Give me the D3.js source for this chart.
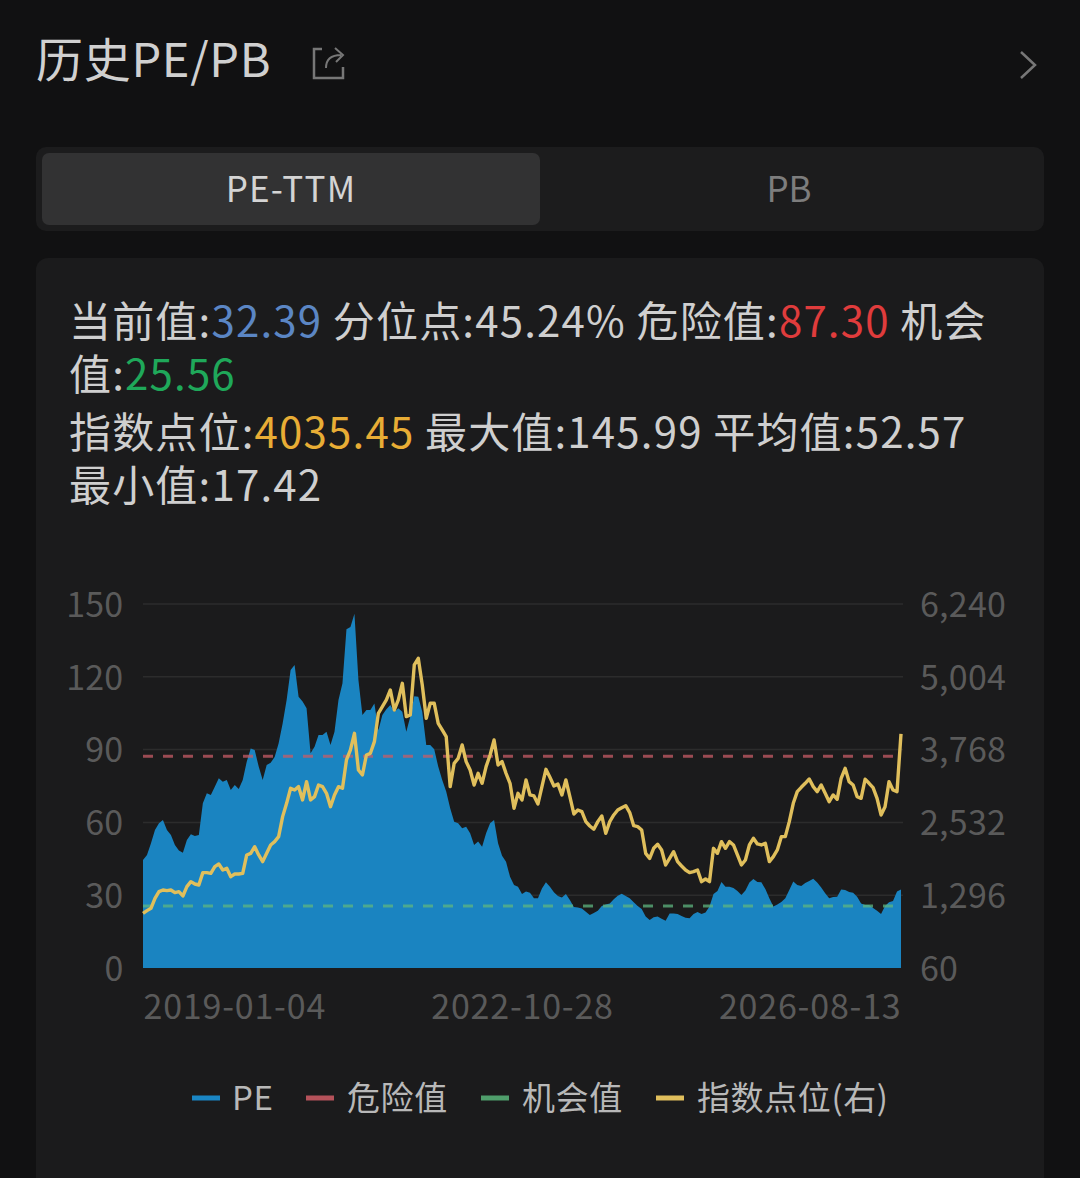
<!DOCTYPE html>
<html lang="zh"><head><meta charset="utf-8">
<script src="https://cdn.jsdelivr.net/npm/d3@7/dist/d3.min.js"></script>
<style>
html,body{margin:0;padding:0;background:#111112;overflow:hidden}
svg{display:block}
text{font-family:"Noto Sans CJK SC","Noto Sans",sans-serif}
</style></head><body><svg id="c" width="1080" height="1178"></svg>
<script>
const peValues=[44.5,46.6,51.4,56.9,59.6,61,56.9,54.8,50.7,48.4,47.5,52.7,55.1,54.4,54.8,67.9,72,71.3,74.7,78.2,76.8,77.5,73.4,75.4,73.8,77.5,85,90.5,89.8,83,77.5,83.7,84.6,87,92.6,100.8,110.4,122.8,124.9,111.8,109.8,107,88.5,91.2,96,96,97.4,91.9,97.4,110.4,117.3,139.6,140.5,145.99,118.7,104.3,106.3,106.3,109,98,104.3,106.6,108.4,105.6,107,105.6,97.4,103.6,112,111.8,105.6,91.9,91.9,90.1,83,77.5,72.7,65.8,60.3,59.6,57.6,58.2,55.5,50.7,52.1,50,55.5,59.6,61,51.4,46.3,43.8,37.6,34.2,33.5,30.5,31.5,
31,28.7,28.7,32.8,35.3,33.5,31.2,29.7,29.1,30.5,28,25.1,24.9,24.5,23.2,21.8,22.7,23.6,25.5,26.2,26.6,28.3,29.8,30.6,29.7,28.7,27.1,25.5,24.3,21.2,19.8,20.9,21.2,20.3,19.5,22.5,22.5,22.3,21.4,20.7,20.5,22.3,23.1,22.3,22.9,25.3,30.5,31.7,35.4,33.5,33.5,33,31.7,30.1,31.9,35.2,36.7,35.4,35.3,32.6,28.7,25.3,26.2,27.2,28.7,32.1,35.6,34.2,33.8,35,35.9,36.8,35.2,33.2,30.8,28.7,29.3,29.4,32.4,32.1,31.3,31,29.4,26.6,26,26,24.7,23.6,22.3,25.5,27.1,27.6,31.5,32.39];
const indexValues=[988,1034,1073,1243,1356,1384,1373,1384,1339,1356,1283,1441,1526,1486,1469,1679,1679,1667,1781,1826,1724,1752,1611,1656,1656,1667,1979,2007,2120,1979,1866,2007,2149,2205,2290,2630,2856,3111,3082,3139,2913,3224,2913,2969,3167,3139,3026,2799,2998,3139,3111,3592,3762,4045,3422,3337,3677,3705,3903,4384,4497,4611,4780,4441,4611,4894,4328,4356,5205,5318,4865,4299,4554,4554,4214,4101,3988,3139,3535,3620,3847,3564,3422,3167,3365,3196,3479,3677,3931,3507,3564,3365,3196,2771,3026,2913,3252,
2998,2981,2845,3139,3433,3298,3150,3184,2998,3252,2969,2675,2743,2715,2545,2471,2415,2545,2641,2347,2545,2658,2743,2782,2816,2698,2477,2460,2403,2007,1922,2092,2160,2064,1809,1922,2035,1866,1792,1724,1679,1696,1724,1526,1571,1526,2092,2007,2205,2092,2205,2149,1979,1809,1894,2149,2262,2166,2149,2177,1866,1950,2064,2290,2290,2545,2856,3054,3128,3196,3269,3139,3054,3167,3026,2884,2998,2924,3281,3450,3224,3167,2969,2941,3264,3196,3122,2941,2658,2799,3224,3082,3054,4035.45];
const dangerValue=87.30, chanceValue=25.56;
const leftTicks=[0,30,60,90,120,150];
const rightTicks=[60,1296,2532,3768,5004,6240];
const xLabels=["2019-01-04","2022-10-28","2026-08-13"];
const legendItems=["PE","危险值","机会值","指数点位(右)"];
const legendColors=["#1a86c4","#b5525a","#4f9e6b","#e0bf5c"];
const tabLabels=["PE-TTM","PB"];
const statLines=[
 [["当前值:","#cfcfcf"],["32.39","#5b86c4"],[" 分位点:45.24% 危险值:","#cfcfcf"],["87.30","#e03c3c"],[" 机会","#cfcfcf"]],
 [["值:","#cfcfcf"],["25.56","#1fa85a"]],
 [["指数点位:","#cfcfcf"],["4035.45","#e8ad35"],[" 最大值:145.99 平均值:52.57","#cfcfcf"]],
 [["最小值:17.42","#cfcfcf"]]
];
const svg=d3.select("#c");
const W=1080,H=1178;
svg.append("rect").attr("width",W).attr("height",H).attr("fill","#111112");
// header
svg.append("text").attr("x",36).attr("y",77).attr("font-size",47).attr("letter-spacing",.7).attr("fill","#d0d0d0").text("历史PE/PB");
svg.append("path").attr("d","M322 49H314V78H343V67M343 78V69").attr("fill","none").attr("stroke","#777").attr("stroke-width",2.5);
svg.append("path").attr("d","M326 68C326 59 331 55 341 55M335 48L343 55L336 62").attr("fill","none").attr("stroke","#777").attr("stroke-width",2);
svg.append("path").attr("d","M1021 52L1035 65L1021 78").attr("fill","none").attr("stroke","#777").attr("stroke-width",2.5);
// tabs
svg.append("rect").attr("x",36).attr("y",147).attr("width",1008).attr("height",84).attr("rx",10).attr("fill","#1c1c1d");
svg.append("rect").attr("x",42).attr("y",153).attr("width",498).attr("height",72).attr("rx",7).attr("fill","#323233");
svg.append("text").attr("x",291).attr("y",202).attr("text-anchor","middle").attr("font-size",35).attr("letter-spacing",1.2).attr("fill","#d4d4d4").text(tabLabels[0]);
svg.append("text").attr("x",789).attr("y",202).attr("text-anchor","middle").attr("font-size",35).attr("fill","#7d7d7d").text(tabLabels[1]);
// card
svg.append("rect").attr("x",36).attr("y",258).attr("width",1008).attr("height",940).attr("rx",12).attr("fill","#1b1b1c");
// stats
const statY=[337,390,448,501];
statLines.forEach((ln,i)=>{
  const t=svg.append("text").attr("x",69).attr("y",statY[i]).attr("font-size",42).attr("letter-spacing",1.18).style("white-space","pre");
  ln.forEach(([s,c])=>t.append("tspan").attr("fill",c).text(s));
});
// chart
const m={l:143,r:901,t:604,b:968};
const x=d3.scaleLinear().domain([0,peValues.length-1]).range([m.l,m.r]);
const yL=d3.scaleLinear().domain([0,150]).range([m.b,m.t]);
const yR=d3.scaleLinear().domain([60,6240]).range([m.b,m.t]);
const g=svg.append("g");
g.selectAll("line.grid").data(leftTicks.slice(1)).join("line").attr("class","grid")
 .attr("x1",m.l).attr("x2",m.r+2).attr("y1",d=>yL(d)).attr("y2",d=>yL(d)).attr("stroke","#2c2c2c").attr("stroke-width",1.5);
g.append("path").datum(peValues).attr("fill","#1a84c1")
 .attr("d",d3.area().x((d,i)=>x(i)).y0(yL(0)).y1(d=>yL(d)));
const dash=(v,c,o)=>g.append("line").attr("x1",m.l).attr("x2",m.r).attr("y1",yL(v)).attr("y2",yL(v))
 .attr("stroke",c).attr("stroke-opacity",o).attr("stroke-width",3).attr("stroke-dasharray","10 10");
dash(dangerValue,"#c75c66",.75);
dash(chanceValue,"#5fb57f",.75);
g.append("path").datum(indexValues).attr("fill","none").attr("stroke","#e0bf5c").attr("stroke-width",3.4).attr("stroke-linejoin","round")
 .attr("d",d3.line().x((d,i)=>x(i)).y(d=>yR(d)));
// axes
const style=a=>{a.select(".domain").remove();a.selectAll(".tick line").remove();
 a.selectAll("text").attr("fill","#5a5a5a").attr("font-size",34).attr("letter-spacing",.25).attr("font-family",'"Noto Sans CJK SC","Noto Sans",sans-serif');};
svg.append("g").attr("transform",`translate(${m.l-19.5},1.5)`).call(d3.axisLeft(yL).tickValues(leftTicks).tickSize(0).tickPadding(0)).call(style);
svg.append("g").attr("transform",`translate(${m.r+19},1.5)`).call(d3.axisRight(yR).tickValues(rightTicks).tickFormat(d3.format(",")).tickSize(0).tickPadding(0)).call(style);
const xpos=[0,(peValues.length-1)/2,peValues.length-1];
const xg=svg.append("g").attr("transform",`translate(0,${m.b})`)
 .call(d3.axisBottom(x).tickValues(xpos).tickFormat((d,i)=>xLabels[i]).tickSize(0).tickPadding(0)).call(style);
xg.selectAll("text").attr("y",51).attr("dy",0).attr("letter-spacing",.8).attr("text-anchor",(d,i)=>["start","middle","end"][i]);
// legend
const legX=[192,306,481,656];
legendItems.forEach((s,i)=>{
  svg.append("line").attr("x1",legX[i]).attr("x2",legX[i]+28).attr("y1",1098).attr("y2",1098).attr("stroke",legendColors[i]).attr("stroke-width",5);
  svg.append("text").attr("x",legX[i]+(i==0?40:41)).attr("y",1110).attr("font-size",33).attr("letter-spacing",.6).attr("fill","#b8b8b8").text(s);
});
</script></body></html>
